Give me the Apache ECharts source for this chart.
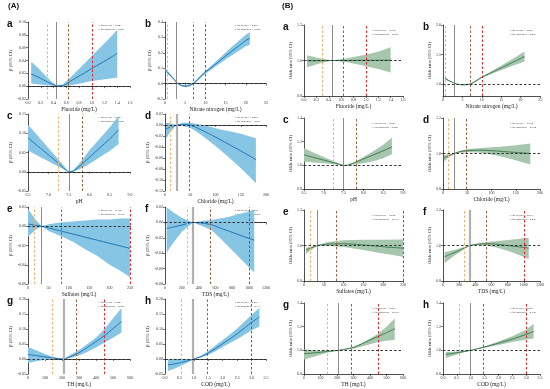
<!DOCTYPE html>
<html><head><meta charset="utf-8">
<script src="https://cdn.jsdelivr.net/npm/echarts@6.0.0/dist/echarts.min.js"></script>
<style>html,body{margin:0;padding:0;background:#fff}#c{width:550px;height:389px}</style>
</head><body><div id="c"></div>
<script>
// ---------- Panel A (beta, 95% CI) ----------
const aX=[0.05,0.15,0.25,0.35,0.45,0.55,0.7,0.85,1.0,1.15,1.3,1.4];
const aFit=[0.019,0.0145,0.0095,0.0045,0.0005,0.001,0.0098,0.0186,0.0275,0.036,0.045,0.051];
const aHi=[0.038,0.029,0.019,0.009,0.001,0.003,0.017,0.032,0.047,0.062,0.077,0.088];
const aLo=[0.004,0.003,0.002,0.001,0.0,-0.001,0.002,0.005,0.008,0.010,0.012,0.013];

const bX=[0.1,1,2,3,4,5,6,7,8,9,10,12,14,16,18,20,21];
const bFit=[0.09,0.063,0.035,0.004,-0.012,-0.017,-0.012,0.0,0.024,0.05,0.074,0.115,0.158,0.2,0.24,0.28,0.294];
const bHi=[0.102,0.071,0.04,0.005,-0.008,-0.011,-0.005,0.007,0.032,0.059,0.084,0.129,0.178,0.226,0.272,0.318,0.335];
const bLo=[0.078,0.055,0.03,0.003,-0.016,-0.023,-0.019,-0.007,0.016,0.041,0.064,0.101,0.138,0.174,0.208,0.242,0.252];

const cX=[6.5,6.75,7.0,7.25,7.5,7.6,7.75,8.0,8.25,8.5,8.72];
const cFit=[0.088,0.066,0.044,0.022,0.0,0.001,0.013,0.037,0.061,0.085,0.109];
const cHi=[0.122,0.092,0.062,0.031,0.0,0.004,0.02,0.055,0.085,0.115,0.145];
const cLo=[0.055,0.041,0.027,0.013,0.0,0.0,0.006,0.02,0.037,0.054,0.072];

const dX=[2,10,23,35,50,70,90,110,130,150,165,180];
const dFit=[-0.007,-0.004,0.0,0.001,0.0,-0.008,-0.017,-0.027,-0.037,-0.047,-0.055,-0.063];
const dHi=[0.004,0.003,0.0,0.004,0.004,0.001,-0.003,-0.008,-0.012,-0.016,-0.02,-0.024];
const dLo=[-0.025,-0.013,0.0,-0.002,-0.005,-0.017,-0.031,-0.046,-0.062,-0.078,-0.092,-0.106];

const eX=[0,10,20,34,50,80,110,140,170,200,225,250];
const eFit=[0.0023,0.0016,0.001,0.0,-0.0017,-0.0049,-0.0081,-0.0113,-0.0145,-0.0177,-0.0203,-0.023];
const eHi=[0.018,0.012,0.006,0.0,0.002,0.004,0.005,0.006,0.007,0.007,0.008,0.008];
const eLo=[-0.011,-0.007,-0.003,0.0,-0.005,-0.010,-0.016,-0.024,-0.031,-0.040,-0.046,-0.053];

const fX=[20,100,200,333,450,550,650,750,850,950,1060];
const fFit=[-0.008,-0.006,-0.0035,0.0,-0.001,-0.003,-0.007,-0.011,-0.015,-0.019,-0.023];
const fHi=[0.0198,0.013,0.006,0.0,0.002,0.003,0.005,0.007,0.01,0.013,0.016];
const fLo=[-0.039,-0.026,-0.012,0.0,-0.005,-0.01,-0.02,-0.031,-0.042,-0.053,-0.065];

const gX=[0,50,100,150,210,250,300,350,400,450,500,550];
const gFit=[0.015,0.011,0.007,0.003,0.0,0.008,0.021,0.039,0.058,0.078,0.101,0.125];
const gHi=[0.04,0.028,0.017,0.007,0.0,0.014,0.03,0.05,0.072,0.1,0.135,0.17];
const gLo=[-0.013,-0.007,-0.003,-0.001,0.0,0.003,0.012,0.024,0.038,0.055,0.071,0.088];

const hX=[0.1,0.3,0.5,0.75,1.0,1.25,1.5,1.75,2.0,2.25,2.5,2.75,3.0,3.27];
const hFit=[-0.02,-0.017,-0.013,-0.007,0.0,0.008,0.02,0.035,0.051,0.067,0.084,0.103,0.122,0.14];
const hHi=[0.0,-0.001,-0.002,-0.001,0.0,0.011,0.027,0.045,0.063,0.082,0.102,0.124,0.147,0.17];
const hLo=[-0.04,-0.033,-0.025,-0.013,0.0,0.005,0.014,0.026,0.04,0.053,0.066,0.081,0.096,0.108];

// ---------- Panel B (odds ratio, 95% CI) ----------
const oaX=[0.05,0.25,0.45,0.7,0.95,1.2,1.4];
const oaFit=[0.998,0.999,1.0,1.0,1.001,1.001,1.002];
const oaHi=[1.029,1.013,1.0,1.013,1.03,1.05,1.074];
const oaLo=[0.962,0.983,1.0,0.99,0.972,0.952,0.933];

const obX=[0.5,1.5,2.8,4,5,6,7,8,9,10,12,14,16,18,20,21];
const obFit=[1.10,1.06,1.02,0.995,0.99,0.992,1.0,1.035,1.075,1.117,1.18,1.244,1.307,1.37,1.434,1.466];
const obHi=[1.12,1.072,1.02,1.001,0.998,1.001,1.01,1.046,1.087,1.131,1.2,1.274,1.352,1.43,1.509,1.551];
const obLo=[1.08,1.048,1.02,0.989,0.982,0.983,0.99,1.024,1.063,1.103,1.16,1.214,1.262,1.31,1.359,1.381];

const ocX=[6.5,6.75,7.0,7.25,7.5,7.6,7.75,8.0,8.25,8.5,8.72];
const ocFit=[1.089,1.066,1.044,1.022,1.0,1.001,1.018,1.053,1.088,1.123,1.155];
const ocHi=[1.144,1.107,1.07,1.035,1.0,1.004,1.025,1.07,1.12,1.175,1.233];
const ocLo=[1.033,1.025,1.017,1.009,1.0,0.999,1.006,1.018,1.035,1.06,1.094];

const odX=[2,10,23,35,50,75,100,125,150,180];
const odFit=[0.975,0.985,1.0,1.01,1.016,1.019,1.016,1.011,1.006,1.0];
const odHi=[0.99,0.995,1.0,1.015,1.025,1.03,1.035,1.04,1.046,1.056];
const odLo=[0.955,0.975,1.0,1.004,1.007,1.005,0.995,0.98,0.962,0.938];

const oeX=[5,20,34,60,100,150,200,250];
const oeFit=[0.975,0.988,1.0,1.008,1.01,1.003,0.993,0.985];
const oeHi=[0.988,0.995,1.0,1.02,1.03,1.032,1.033,1.034];
const oeLo=[0.953,0.978,1.0,0.998,0.992,0.975,0.955,0.937];

const ofX=[20,100,200,333,450,550,650,800,950,1060];
const ofFit=[0.937,0.952,0.972,1.0,1.008,1.01,1.008,1.0,0.992,0.985];
const ofHi=[0.962,0.97,0.983,1.0,1.014,1.02,1.024,1.031,1.038,1.044];
const ofLo=[0.9,0.929,0.96,1.0,1.002,0.998,0.99,0.97,0.945,0.924];

const ogX=[0,50,100,150,210,250,300,350,400,450,500,550];
const ogFit=[0.971,0.977,0.984,0.992,1.0,1.01,1.023,1.055,1.087,1.118,1.15,1.182];
const ogHi=[1.009,1.002,0.997,0.998,1.0,1.014,1.032,1.06,1.1,1.14,1.2,1.268];
const ogLo=[0.922,0.942,0.962,0.983,1.0,1.006,1.016,1.033,1.052,1.07,1.08,1.089];

const ohX=[0.1,0.5,1.0,1.5,2.0,2.5,3.0,3.27];
const ohFit=[0.965,0.98,1.0,1.028,1.06,1.095,1.135,1.16];
const ohHi=[0.986,0.99,1.0,1.035,1.075,1.12,1.175,1.225];
const ohLo=[0.936,0.965,1.0,1.021,1.046,1.07,1.092,1.1];

// reference lines: [orange, gray, brown, red]
const fluLines=[0.3,0.45,0.63,1.0];
const nitLines=[0.5,2.8,7,10];
const phLines=[7.23,7.5,7.82,null];
const chlLines=[10,23,48,null];
const sulLines=[15.5,33.6,82.5,250];
const tdsLines=[262,333,541,1000];
const thLines=[140,210,286,450];
const codLines=[0.57,0.97,1.45,3.0];

const xNames=['Fluoride (mg/L)','Nitrate nitrogen (mg/L)','pH','Chloride (mg/L)','Sulfates (mg/L)','TDS (mg/L)','TH (mg/L)','COD (mg/L)'];
const letters=['a','b','c','d','e','f','g','h'];
const pOverallA=['< 0.001','< 0.001','< 0.001','< 0.001','= 0.170','= 0.212','< 0.001','< 0.001'];
const pNonlinA=['< 0.001','< 0.001','< 0.001','= 0.071','= 0.572','= 0.261','= 0.009','= 0.313'];
const pOverallB=['= 0.998','< 0.001','< 0.001','= 0.182','= 0.626','= 0.031','< 0.001','< 0.001'];
const pNonlinB=['= 0.986','< 0.001','< 0.001','= 0.354','= 0.638','= 0.027','= 0.078','= 0.398'];

// x axis ranges [min,max,interval,decimals]
const xRanges=[[0,1.6,0.2,1],[0,25,5,0],[6.5,9.0,0.5,1],[0,200,50,0],[0,250,50,0],[0,1200,200,0],[0,600,100,0],[0,3.5,0.5,1]];
// y axis ranges [min,max,interval,decimals]
const yRangesA=[[-0.02,0.10,0.02,2],[-0.1,0.4,0.1,1],[-0.05,0.15,0.05,2],[-0.12,0.02,0.02,2],[-0.06,0.02,0.02,2],[-0.08,0.02,0.02,2],[-0.05,0.20,0.05,2],[-0.05,0.20,0.05,2]];
const yRangesB=[[0.8,1.2,0.2,1],[0.8,2.0,0.5,1],[0.8,1.4,0.2,1],[0.8,1.2,0.2,1],[0.8,1.2,0.2,1],[0.8,1.2,0.2,1],[0.8,1.4,0.2,1],[0.8,1.4,0.2,1]];
const yTicksB1=[1.0,1.5,2.0];

const dataA=[[aX,aFit,aLo,aHi],[bX,bFit,bLo,bHi],[cX,cFit,cLo,cHi],[dX,dFit,dLo,dHi],[eX,eFit,eLo,eHi],[fX,fFit,fLo,fHi],[gX,gFit,gLo,gHi],[hX,hFit,hLo,hHi]];
const dataB=[[oaX,oaFit,oaLo,oaHi],[obX,obFit,obLo,obHi],[ocX,ocFit,ocLo,ocHi],[odX,odFit,odLo,odHi],[oeX,oeFit,oeLo,oeHi],[ofX,ofFit,ofLo,ofHi],[ogX,ogFit,ogLo,ogHi],[ohX,ohFit,ohLo,ohHi]];
const refLines=[fluLines,nitLines,phLines,chlLines,sulLines,tdsLines,thLines,codLines];

// ---------- layout ----------
const A_LEFT=[28,165], A_W=[102,101], A_TOP=[22,114,207,299], A_H=77;
const B_LEFT=[304,443], B_W=[99,97], B_TOP=[25,118,210,303], B_H=71;
const thickGrayA=[false,false,false,true,false,true,true,true];
const thickGrayB=[false,false,false,false,false,true,false,false];

const SERIF='"Liberation Serif","Times New Roman",serif';
const grids=[],xAxes=[],yAxes=[],series=[],graphics=[];

function build(panel,k,data,yr){
  const idx=grids.length;
  const col=k%2,row=Math.floor(k/2);
  const isA=panel==='A';
  const left=isA?A_LEFT[col]:B_LEFT[col], w=isA?A_W[col]:B_W[col];
  const top=isA?A_TOP[row]:B_TOP[row], h=isA?A_H:B_H;
  grids.push({left:left,top:top,width:w,height:h});
  const xr=xRanges[k];
  xAxes.push({type:'value',gridIndex:idx,min:xr[0],max:xr[1],interval:xr[2],
    name:xNames[k],nameLocation:'middle',nameGap:8,
    nameTextStyle:{fontFamily:SERIF,fontSize:5.5,color:'#222'},
    axisLine:{lineStyle:{color:'#222',width:0.8}},
    axisTick:{length:2,lineStyle:{color:'#222',width:0.6}},
    axisLabel:{fontSize:4,margin:2,color:'#333',fontFamily:SERIF,formatter:v=>v.toFixed(xr[3])},
    splitLine:{show:false}});
  const ya={type:'value',gridIndex:idx,min:yr[0],max:yr[1],interval:yr[2],
    name:isA?'β (95% CI)':'Odds ratio (95% CI)',nameLocation:'middle',nameGap:isA?10:8,nameRotate:90,
    nameTextStyle:{fontFamily:SERIF,fontSize:4.5,color:'#222'},
    axisLine:{show:true,lineStyle:{color:'#222',width:0.8}},
    axisTick:{show:true,length:2,lineStyle:{color:'#222',width:0.6}},
    axisLabel:{fontSize:4,margin:2,color:'#333',fontFamily:SERIF,formatter:v=>v.toFixed(yr[3])},
    splitLine:{show:false}};
  if(!isA&&k===1){
    delete ya.interval;
    ya.axisLabel.customValues=yTicksB1; ya.axisTick.customValues=yTicksB1;
  }
  yAxes.push(ya);
  const [xs,fit,lo,hi]=data;
  const bandColor=isA?'#86c6e4':'#a6c6ad';
  const lineColor=isA?'#1f74b4':'#3f7a50';
  // confidence band as a polygon through the axis scales
  series.push({type:'custom',xAxisIndex:idx,yAxisIndex:idx,data:[[xs[0],lo[0]]],silent:true,z:1,clip:true,
    renderItem:function(params,api){
      const up=xs.map((x,i)=>api.coord([x,hi[i]]));
      const dn=xs.map((x,i)=>api.coord([x,lo[i]])).reverse();
      return {type:'polygon',shape:{points:up.concat(dn)},style:{fill:bandColor,stroke:null}};
    }});
  const rl=refLines[k];
  const thick=isA?thickGrayA[k]:thickGrayB[k];
  const ml=[];
  const cols=['#f5b26b',null,'#a0603a','#e8262b'];
  rl.forEach((v,j)=>{
    if(v===null) return;
    if(j===1) ml.push({xAxis:v,lineStyle:{color:thick?'#b0b0b0':'#808080',width:thick?2.2:0.9,type:'solid'}});
    else ml.push({xAxis:v,lineStyle:{color:cols[j],width:1,type:[2.5,2]}});
  });
  ml.push({yAxis:isA?0:1,lineStyle:{color:'#222',width:0.9,type:[2.5,2]}});
  series.push({type:'line',xAxisIndex:idx,yAxisIndex:idx,data:xs.map((x,i)=>[x,fit[i]]),
    symbol:'none',smooth:0.2,lineStyle:{color:lineColor,width:1},z:3,silent:true,
    markLine:{silent:true,symbol:['none','none'],label:{show:false},data:ml,animation:false}});
  graphics.push({type:'text',left:left-(col?20:21),top:top-3,
    style:{text:letters[k],font:'bold 10px "Liberation Sans",Arial,sans-serif',fill:'#111'}});
  const po=isA?pOverallA[k]:pOverallB[k], pn=isA?pNonlinA[k]:pNonlinB[k];
  graphics.push({type:'text',left:left+w*0.69,top:top+(isA?2:4),
    style:{text:'P for overall '+po+'\nP for nonlinear '+pn,font:'2.8px '+SERIF,lineHeight:3.2,fill:'#333'}});
}
for(let k=0;k<8;k++) build('A',k,dataA[k],yRangesA[k]);
for(let k=0;k<8;k++) build('B',k,dataB[k],yRangesB[k]);

graphics.push({type:'text',left:8,top:2,style:{text:'(A)',font:'bold 8px "Liberation Sans",Arial,sans-serif',fill:'#111'}});
graphics.push({type:'text',left:282,top:2,style:{text:'(B)',font:'bold 8px "Liberation Sans",Arial,sans-serif',fill:'#111'}});

const chart=echarts.init(document.getElementById('c'),null,{renderer:'canvas'});
chart.setOption({animation:false,backgroundColor:'#fff',grid:grids,xAxis:xAxes,yAxis:yAxes,series:series,graphic:graphics});
</script></body></html>
